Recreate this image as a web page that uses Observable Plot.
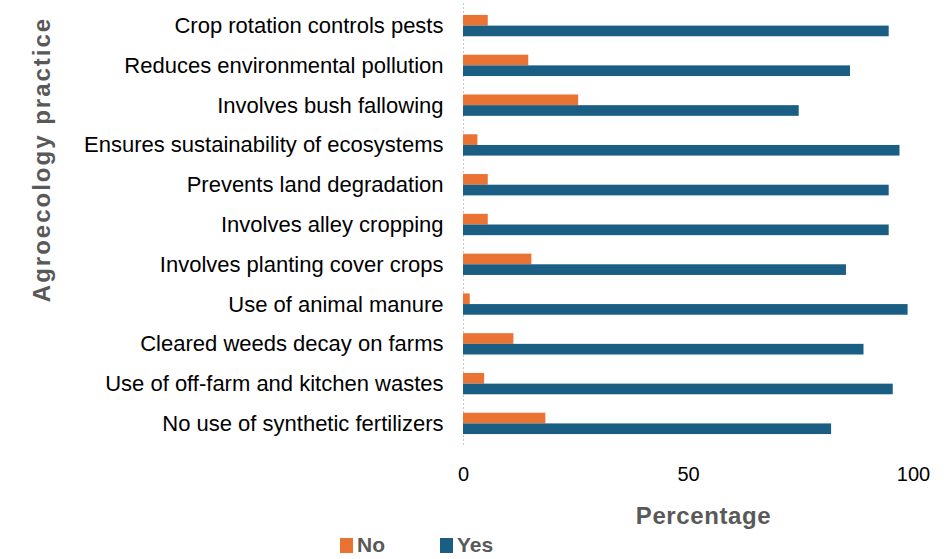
<!DOCTYPE html>
<html>
<head>
<meta charset="utf-8">
<script src="https://cdn.jsdelivr.net/npm/d3@7"></script>
<script src="https://cdn.jsdelivr.net/npm/@observablehq/plot@0.6"></script>
<style>
  body { margin: 0; background: #fff; font-family: "Liberation Sans", Arial, sans-serif; }
  #chart { position: relative; width: 950px; height: 559px; }
  .legend { position: relative; width: 950px; height: 29px; }
  .legend .sw { position: absolute; top: 8px; width: 13px; height: 15px; }
  .legend .lb { position: absolute; top: 4px; font-weight: bold; font-size: 21px; color: #595959; line-height: 21px; }
</style>
</head>
<body>
<div id="chart"></div>
<script>
const categories = [
  "Crop rotation controls pests",
  "Reduces environmental pollution",
  "Involves bush fallowing",
  "Ensures sustainability of ecosystems",
  "Prevents land degradation",
  "Involves alley cropping",
  "Involves planting cover crops",
  "Use of animal manure",
  "Cleared weeds decay on farms",
  "Use of off-farm and kitchen wastes",
  "No use of synthetic fertilizers"
];
const noValues  = [5.5, 14.5, 25.6, 3.2, 5.5, 5.5, 15.2, 1.5, 11.2, 4.7, 18.3];
const yesValues = [94.6, 86.0, 74.6, 97.0, 94.6, 94.6, 85.1, 98.8, 89.0, 95.5, 81.8];
const seriesNames = ["No", "Yes"];
const seriesColors = ["#EA7333", "#1A5F83"];
const xTicks = [0, 50, 100];
const xTitle = "Percentage";
const yTitle = "Agroecology practice";

const noData = categories.map((c, i) => ({category: c, series: seriesNames[0], value: noValues[i]}));
const yesData = categories.map((c, i) => ({category: c, series: seriesNames[1], value: yesValues[i]}));

const chart = Plot.plot({
  width: 950,
  height: 530,
  marginLeft: 463,
  marginRight: 37,
  marginTop: 3,
  marginBottom: 84,
  style: {fontFamily: "'Liberation Sans', Arial, sans-serif", color: "#000", background: "#fff"},
  x: {domain: [0, 100]},
  y: {domain: categories, paddingInner: 0.464, paddingOuter: 0.3, round: false},
  marks: [
    Plot.ruleX([0], {stroke: "#c8c8c8", strokeDasharray: "2,2", strokeWidth: 1}),
    Plot.barX(noData, {x: "value", y: "category", fill: seriesColors[0], insetBottom: 10.67, insetTop: 0}),
    Plot.barX(yesData, {x: "value", y: "category", fill: seriesColors[1], insetTop: 10.67, insetBottom: 0}),
    Plot.axisY({tickSize: 0, tickPadding: 20, fontSize: 22, label: null, fill: "#000"}),
    Plot.axisX({ticks: xTicks, tickSize: 0, tickPadding: 20, fontSize: 20, label: null, fill: "#000"}),
    Plot.text([xTitle], {frameAnchor: "bottom", dx: 15, dy: 70, text: d => d, fontSize: 24, fontWeight: "bold", fill: "#595959", lineAnchor: "middle", textAnchor: "middle"}),
    Plot.text([yTitle], {frameAnchor: "left", dx: -421, dy: -65.5, rotate: -90, text: d => d, fontSize: 24, fontWeight: "bold", fill: "#595959", lineAnchor: "middle", textAnchor: "middle"})
  ]
});
document.getElementById("chart").appendChild(chart);

// letter spacing for the titles
d3.select(chart).selectAll("text").filter(function() { return this.textContent === yTitle; })
  .attr("letter-spacing", "2px");
d3.select(chart).selectAll("text").filter(function() { return this.textContent === xTitle; })
  .attr("letter-spacing", "0.6px");

// legend below the svg
const legend = d3.select("#chart").append("div").attr("class", "legend");
const legendX = [340, 440];
seriesNames.forEach((name, i) => {
  legend.append("div").attr("class", "sw").style("left", legendX[i] + "px").style("background", seriesColors[i]);
  legend.append("div").attr("class", "lb").style("left", (legendX[i] + 17) + "px").text(name);
});
</script>
</body>
</html>
